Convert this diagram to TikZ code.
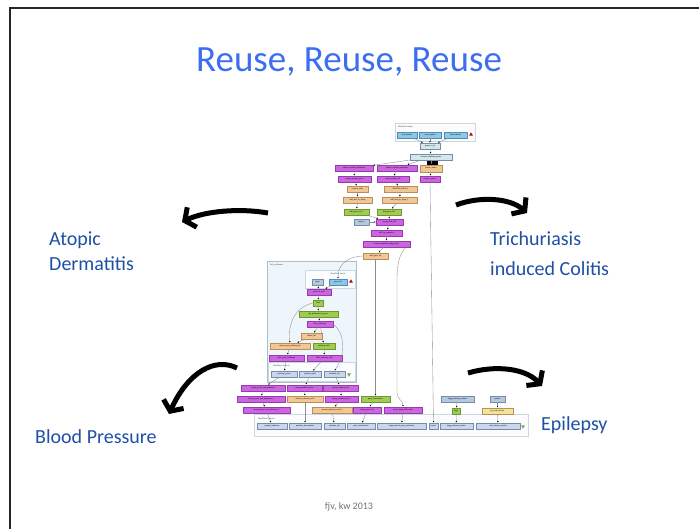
\documentclass[tikz,border=0pt]{standalone}
\usepackage{fontspec}
\setmainfont{Carlito}
\usetikzlibrary{arrows.meta,shapes.geometric}
\definecolor{tblue}{RGB}{60,110,240}
\definecolor{lblue}{RGB}{31,80,165}
\definecolor{mgf}{RGB}{205,100,225}
\definecolor{mgd}{RGB}{150,60,170}
\definecolor{orf}{RGB}{240,200,150}
\definecolor{ord}{RGB}{190,140,90}
\definecolor{grf}{RGB}{160,205,80}
\definecolor{grd}{RGB}{110,150,50}
\definecolor{skf}{RGB}{140,200,230}
\definecolor{skd}{RGB}{80,140,180}
\definecolor{stf}{RGB}{180,200,225}
\definecolor{std}{RGB}{120,140,170}
\definecolor{ouf}{RGB}{200,215,235}
\definecolor{pcf}{RGB}{210,232,235}
\definecolor{khf}{RGB}{240,230,150}
\definecolor{pnf}{RGB}{238,246,252}
\definecolor{pnd}{RGB}{170,190,205}
\begin{document}
\begin{tikzpicture}[x=1pt,y=-1pt,
  box/.style={draw, line width=0.3pt, inner sep=0pt, minimum height=6.5pt,
     font=\fontsize{2}{2.4}\selectfont},
  mg/.style={box, fill=mgf, draw=mgd, minimum width=#1},
  org/.style={box, fill=orf, draw=ord, minimum width=#1},
  grn/.style={box, fill=grf, draw=grd, minimum width=#1},
  sky/.style={box, fill=skf, draw=skd, minimum width=#1},
  stl/.style={box, fill=stf, draw=std, minimum width=#1},
  outb/.style={box, fill=ouf, draw=std, minimum width=#1},
  pcy/.style={box, fill=pcf, draw=std, minimum width=#1},
  kha/.style={box, fill=khf, draw=ord, minimum width=#1},
  panel/.style={draw=pnd, fill=pnf, line width=0.4pt, inner sep=0pt, anchor=north west},
  wpanel/.style={draw=pnd!60, fill=white!70!pnf, line width=0.3pt, inner sep=0pt, anchor=north west},
  ptxt/.style={font=\fontsize{2.2}{2.6}\selectfont, text=black!70, inner sep=0pt, anchor=west},
  edge/.style={draw=black!45, line width=0.35pt, -{Latex[length=1.6pt,width=1.6pt,black]}},
  lab/.style={font=\fontsize{20}{24}\selectfont, text=lblue, inner sep=0pt, anchor=base west},
  bigarrow/.style={line width=5pt, black, -{Straight Barb[length=8pt,width=22pt]}},
  tri/.style={regular polygon, regular polygon sides=3, inner sep=0pt, minimum size=4.5pt}
]
\useasboundingbox (0,0) rectangle (699,528);
\clip (0,0) rectangle (699,528);
\fill[white] (0,0) rectangle (699,528);
\draw[line width=2pt, black!85] (10,8) rectangle (760,580);

% title and footer
\node[font=\fontsize{37}{44}\selectfont, text=tblue] (title) at (349,62) {Reuse, Reuse, Reuse};
\node[font=\fontsize{10}{12}\selectfont, text=black!55] (foot) at (349,507) {fjv, kw 2013};

% labels
\node[lab] (atopic) at (49,245) {Atopic};
\node[lab] (derm) at (49,270) {Dermatitis};
\node[lab] (trich) at (490,245) {Trichuriasis};
\node[lab] (colitis) at (490,275) {induced Colitis};
\node[lab] (blood) at (35,443) {Blood Pressure};
\node[lab] (epi) at (541,430) {Epilepsy};

% big curved arrows
\coordinate (a1s) at (268,213); \coordinate (a1e) at (182,222);
\coordinate (a2s) at (456,205); \coordinate (a2e) at (527,213);
\coordinate (a3s) at (237,368); \coordinate (a3e) at (169,414);
\coordinate (a4s) at (468,373); \coordinate (a4e) at (542,386);
\draw[bigarrow] (a1s) .. controls (240,208) and (205,211) .. (a1e);
\draw[bigarrow] (a2s) .. controls (480,196) and (510,198) .. (a2e);
\draw[bigarrow] (a3s) .. controls (215,357) and (188,372) .. (a3e);
\draw[bigarrow] (a4s) .. controls (495,365) and (525,368) .. (a4e);

% ---------- workflow: panels ----------
\node[wpanel, minimum width=80pt, minimum height=18pt] (inpanel) at (395,123) {};
\node[ptxt] (intxt) at (398,126.5) {Workflow Inputs};
\node[panel, minimum width=89pt, minimum height=121pt] (subpanel) at (267,261) {};
\node[ptxt] (subtxt) at (270,265) {Sub\_pathways};
\node[wpanel, minimum width=50pt, minimum height=18pt] (sinpanel) at (305,270) {};
\node[ptxt, anchor=center] (sintxt) at (338,273.5) {Workflow Inputs};
\node[wpanel, minimum width=87pt, minimum height=19pt] (soutpanel) at (268,362) {};
\node[ptxt] (souttxt) at (273,365.5) {Workflow Outputs};
\node[wpanel, minimum width=274pt, minimum height=22pt] (outpanel) at (254,414) {};
\node[ptxt] (outtxt) at (258,418.5) {Workflow Outputs};

% ---------- top part ----------
\node[sky=20pt] (i1) at (407,135) {end\_protein};
\node[sky=22pt] (i2) at (430,135) {start\_protein};
\node[sky=23pt] (i3) at (455.5,135) {interactomes};
\node[tri, fill=red!75!black] (t1) at (471,134.5) {};
\node[pcy=20pt] (g1) at (430,146) {genes\_in\_id};
\node[pcy=42pt] (rd) at (431,157) {remove\_duplicate\_genes};
\node[box, fill=black, minimum width=10pt, minimum height=3.5pt] (blk) at (432,163) {};
\node[mg=38pt] (m1a) at (354,168) {extract\_protein\_duplicates};
\node[mg=40pt] (m1b) at (397,168) {extract\_original\_duplicates};
\node[org=22pt] (cr) at (431,168.5) {create\_report};
\node[mg=33pt] (m2a) at (354.5,179) {merge\_protein\_genes};
\node[mg=32pt] (m2b) at (393,179) {merge\_protein\_ids};
\node[mg=20pt] (m2c) at (430,179) {merge\_reports};
\node[org=21pt] (o3a) at (357.5,189) {remove\_Nulls};
\node[org=33pt] (o3b) at (400.5,189) {REMOVE\_NULLS\_2};
\node[org=29pt] (o4a) at (357.5,200) {add\_ncbi\_to\_string};
\node[org=35pt] (o4b) at (399.5,200) {add\_ncbi\_to\_string\_2};
\node[grn=25pt] (g5a) at (356.5,212) {flatt\_gene\_list\_1};
\node[grn=24pt] (g5b) at (389,212) {flatt\_gene\_list};
\node[stl=15pt] (b6) at (361.5,222) {input\_2};
\node[mg=27pt] (m6) at (389.5,222) {merge\_flatt\_lists};
\node[mg=31pt] (m7) at (386.5,233) {split\_by\_separator};
\node[mg=47pt] (m8) at (386.5,244) {remove\_duplicate\_kegg\_genes};
\node[org=25pt] (o9) at (375.5,256) {split\_gene\_list};

% ---------- sub workflow ----------
\node[stl=11pt] (sin) at (317.5,282) {input};
\node[sky=18pt] (sgid) at (338,282) {gene\_ids};
\node[tri, fill=red!75!black] (t2) at (351,281.5) {};
\node[mg=24pt] (sm1) at (319,292) {gene\_to\_ncbi};
\node[grn=10pt] (sg1) at (318,303) {Flatt};
\node[grn=39pt] (sg2) at (318.5,314) {get\_pathways\_by\_genes};
\node[mg=26pt] (sm2) at (320,324) {filter\_pathways};
\node[org=21pt] (so1) at (311.5,336) {concat\_ids};
\node[org=40pt] (so2) at (290,346) {concat\_gene\_pathway\_ids};
\node[grn=22pt] (sg3) at (324,346) {pathway\_flatt};
\node[mg=35pt] (sm3) at (286.5,358) {filter\_gene\_pathways};
\node[mg=35pt] (sm4) at (324.5,358) {filter\_pathway\_flatt};
\node[outb=26pt] (sout1) at (284,374) {pathway\_genes};
\node[outb=22pt] (sout2) at (310,374) {pathway\_flatt};
\node[outb=21pt] (sout3) at (334.5,374) {pathway\_ids};
\node[tri, shape border rotate=180, fill=grf!80!black] (t3) at (349,374.5) {};

% ---------- bottom part ----------
\node[mg=44pt] (r1a) at (263,388) {merge\_genes\_and\_pathways};
\node[mg=35pt] (r1b) at (304.5,388) {merge\_pathway\_desc};
\node[mg=35pt] (r1c) at (340.5,388) {merge\_pathway\_ids};
\node[mg=48pt] (r2a) at (261,399) {merge\_genes\_and\_pathways\_2};
\node[org=36pt] (r2b) at (305,399) {remove\_pathway\_nulls};
\node[mg=33pt] (r2c) at (341.5,399) {merge\_pathway\_ids\_2};
\node[grn=29pt] (r2d) at (375.5,399) {gene\_interactions};
\node[mg=47pt] (r3a) at (266.5,410) {merge\_genes\_and\_pathways\_3};
\node[org=40pt] (r3b) at (332,410) {remove\_pathway\_nulls\_2};
\node[mg=28pt] (r3c) at (367,410) {merge\_gene\_ids};
\node[mg=38pt] (r3d) at (403,410) {merge\_kegg\_differential};
\node[stl=33pt] (kr) at (457.5,399) {kegg\_pathway\_release};
\node[grn=8pt] (kg) at (456,411) {kegg};
\node[stl=15pt] (sp) at (497.5,399) {species};
\node[kha=31pt] (gn) at (497.5,411) {get\_ncbi\_release};

\node[outb=30pt] (ob1) at (272,426) {merged\_pathways};
\node[outb=32pt] (ob2) at (305,426) {pathway\_descriptions};
\node[outb=21pt] (ob3) at (334.5,426) {pathway\_ids};
\node[outb=28pt] (ob4) at (361,426) {gene\_interactions};
\node[outb=49pt] (ob5) at (401.5,426) {kegg\_external\_gene\_reference};
\node[outb=9pt] (ob6) at (433.5,426) {report};
\node[outb=33pt] (ob7) at (456.5,426) {kegg\_pathway\_release};
\node[outb=44pt] (ob8) at (498,426) {ncbi\_release\_version};
\node[tri, shape border rotate=180, fill=grf!80!black] (t4) at (523,426.5) {};

% ---------- edges ----------
\draw[edge] (i1) -- (g1);
\draw[edge] (i2) -- (g1);
\draw[edge] (i3) -- (g1);
\draw[edge] (g1) -- (rd);
\draw[edge] (rd) -- (m1a);
\draw[edge] (rd) -- (m1b);
\draw[edge] (rd) -- (cr);
\draw[edge] (m1a) -- (m2a);
\draw[edge] (m1b) -- (m2b);
\draw[edge] (cr) -- (m2c);
\draw[edge] (m2a) -- (o3a);
\draw[edge] (m2b) -- (o3b);
\draw[edge] (o3a) -- (o4a);
\draw[edge] (o3b) -- (o4b);
\draw[edge] (o4a) -- (g5a);
\draw[edge] (o4b) -- (g5b);
\draw[edge] (g5a) -- (m6);
\draw[edge] (g5b) -- (m6);
\draw[edge] (b6) -- (m6);
\draw[edge] (m6) -- (m7);
\draw[edge] (m7) -- (m8);
\draw[edge] (m8) -- (o9);
\draw[edge] (o9.west) .. controls (345,257) and (338,266) .. (sgid.north);
\draw[edge] (o9.south) -- (r2d.north);
\draw[edge] (m8.east) .. controls (400,250) and (397,262) .. (397,280) -- (397,392) .. controls (397,400) and (403,400) .. (r3d.north);
\draw[edge] (m2c.south) -- (ob6.north);

\draw[edge] (sin) -- (sm1);
\draw[edge] (sgid) -- (sm1);
\draw[edge] (sm1) -- (sg1);
\draw[edge] (sg1) -- (sg2);
\draw[edge] (sg2) -- (sm2);
\draw[edge] (sm2) -- (so1);
\draw[edge] (sm2) -- (sg3);
\draw[edge] (so1) -- (so2);
\draw[edge] (sg1.west) .. controls (292,308) and (288,328) .. (so2.north);
\draw[edge] (sm2.east) .. controls (345,333) and (346,355) .. (sout3.north);
\draw[edge] (so2) -- (sm3);
\draw[edge] (sg3) -- (sm4);
\draw[edge] (sm3) -- (sout1);
\draw[edge] (sm4) -- (sout2);

\draw[edge] (sout1) -- (r1a);
\draw[edge] (sout2) -- (r1b);
\draw[edge] (sout3) -- (r1c);
\draw[edge] (r1a) -- (r2a);
\draw[edge] (r1b) -- (r2b);
\draw[edge] (r1c) -- (r2c);
\draw[edge] (r2a) -- (r3a);
\draw[edge] (r2c) -- (r3b);
\draw[edge] (r2d) -- (r3c);
\draw[edge] (r3a) -- (ob1);
\draw[edge] (r2b.south) -- (ob2.north);
\draw[edge] (r3b) -- (ob3);
\draw[edge] (r3c) -- (ob4);
\draw[edge] (r3d) -- (ob5);
\draw[edge] (kr) -- (kg);
\draw[edge] (kg) -- (ob7);
\draw[edge] (sp) -- (gn);
\draw[edge] (gn) -- (ob8);
\end{tikzpicture}
\end{document}
